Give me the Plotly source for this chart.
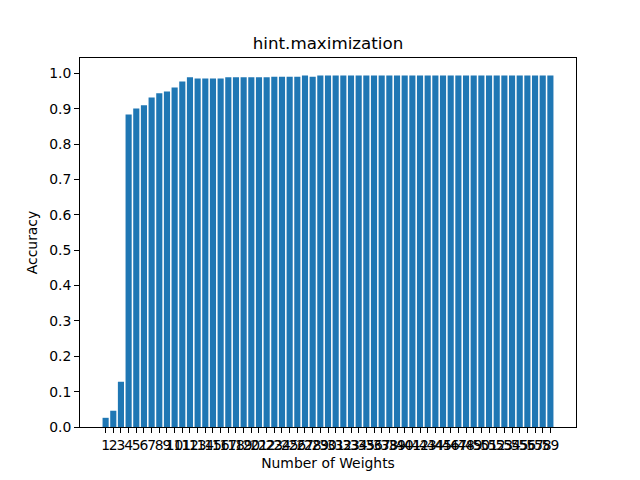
import plotly.graph_objects as go

weights = list(range(1, 60))
accuracy = [0.026, 0.046, 0.128, 0.884, 0.901, 0.910, 0.932, 0.944, 0.949, 0.960,
            0.977, 0.989, 0.986, 0.986, 0.986, 0.986, 0.989, 0.989, 0.989, 0.989,
            0.989, 0.989, 0.991, 0.991, 0.991, 0.991, 0.994, 0.991] + [0.994] * 31
y_ticks = [round(i * 0.1, 1) for i in range(11)]

fig = go.Figure(go.Bar(x=weights, y=accuracy, marker_color="#1f77b4",
                       marker_line_width=0, width=0.8))

axis_style = dict(showline=True, linecolor="black", linewidth=1, mirror=True,
                  ticks="outside", ticklen=5, tickcolor="black", showgrid=False,
                  zeroline=False, tickfont=dict(size=13.9, color="black"))

# the page body adds an 8px margin, so the figure is 8px smaller
fig.update_layout(
    width=632, height=472,
    margin=dict(l=72, r=64, t=50, b=53),
    plot_bgcolor="white", paper_bgcolor="white",
    font=dict(family="DejaVu Sans", color="black"),
    title=dict(text="hint.maximization", x=0.5, xanchor="center", xref="paper",
               y=0.926, yanchor="middle", font=dict(size=16.7)),
    showlegend=False,
)
fig.update_xaxes(axis_style, range=[-2.34, 62.34], tickmode="array",
                 tickvals=weights, ticktext=[str(w) for w in weights], tickangle=0,
                 title=dict(text="Number of Weights", font=dict(size=13.9), standoff=6))
fig.update_yaxes(axis_style, range=[0, 1.0437], tickmode="array", tickvals=y_ticks,
                 ticktext=[f"{v:.1f}" for v in y_ticks],
                 title=dict(text="Accuracy", font=dict(size=13.9), standoff=8))

fig.write_html("out.html")
